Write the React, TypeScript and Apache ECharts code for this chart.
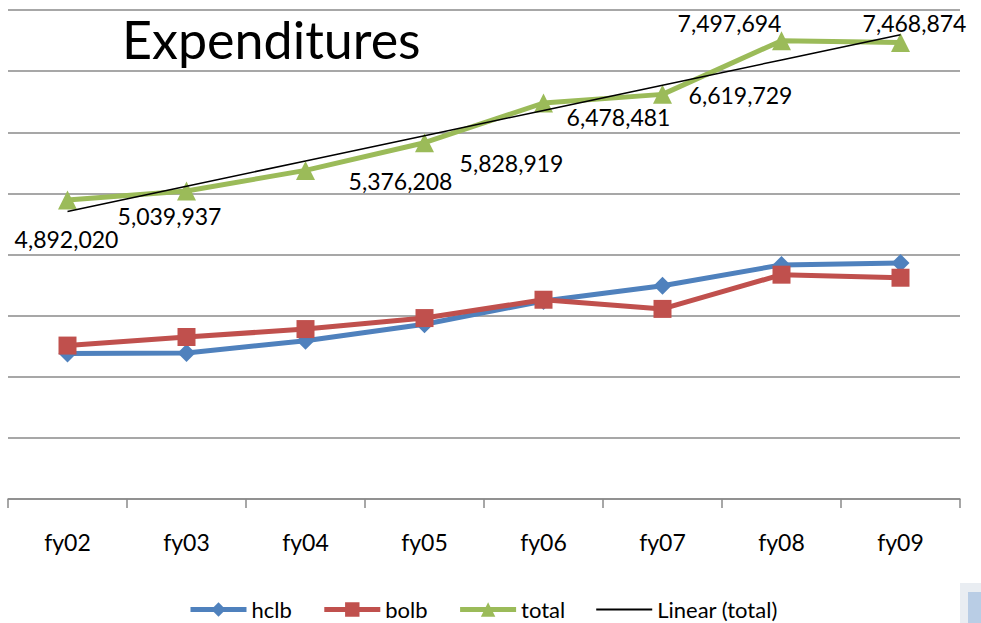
import React, { useEffect, useRef } from "react";
import * as echarts from "echarts";

const categories = ["fy02", "fy03", "fy04", "fy05", "fy06", "fy07", "fy08", "fy09"];
const hclb = [2380000, 2390000, 2590000, 2860000, 3240000, 3490000, 3830000, 3860000];
const bolb = [2510000, 2650000, 2780000, 2960000, 3260000, 3110000, 3670000, 3620000];
const total = [4892020, 5039937, 5376208, 5828919, 6478481, 6619729, 7497694, 7468874];

// label placement (layout only), offsets from each total point
const labelOffsets: [number, number][] = [
  [-1, 39], [-17, 25], [95, 11], [87, 20], [75, 14], [78, 1], [-52, -18], [14, -19],
];

function linearTrend(ys: number[]): number[] {
  const n = ys.length;
  const xs = ys.map((_, i) => i + 1);
  const mx = xs.reduce((a, b) => a + b, 0) / n;
  const my = ys.reduce((a, b) => a + b, 0) / n;
  let sxy = 0;
  let sxx = 0;
  for (let i = 0; i < n; i++) {
    sxy += (xs[i] - mx) * (ys[i] - my);
    sxx += (xs[i] - mx) * (xs[i] - mx);
  }
  const slope = sxy / sxx;
  const b = my - slope * mx;
  return xs.map((x) => b + slope * x);
}

const FONT = "Lato, 'Open Sans', sans-serif";
const fmt = (v: number) => v.toLocaleString("en-US");

export default function App() {
  const ref = useRef<HTMLDivElement>(null);
  useEffect(() => {
    if (!ref.current) return;
    const chart = echarts.init(ref.current, undefined, { renderer: "svg" });
    const trend = linearTrend(total);
    chart.setOption({
      animation: false,
      backgroundColor: "#ffffff",
      textStyle: { fontFamily: FONT },
      title: {
        text: "Expenditures",
        left: 117,
        top: 8,
        textStyle: { fontFamily: FONT, fontSize: 52, fontWeight: "normal", color: "#000" },
      },
      grid: { left: 8, right: 21, top: 10, bottom: 124, containLabel: false },
      legend: {
        left: 188,
        top: 597,
        padding: 0,
        itemWidth: 56,
        itemHeight: 18,
        itemGap: 30,
        lineStyle: { width: 5, cap: "butt" },
        textStyle: { fontFamily: FONT, fontSize: 22, lineHeight: 25, color: "#000" },
        data: [
          "hclb",
          "bolb",
          "total",
          { name: "Linear (total)", itemStyle: { opacity: 0 }, lineStyle: { width: 2, cap: "butt" } },
        ],
      },
      xAxis: {
        type: "category",
        data: categories,
        boundaryGap: true,
        axisLine: { lineStyle: { color: "#8a8a8a", width: 1.5 } },
        axisTick: { show: true, length: 9, lineStyle: { color: "#8a8a8a", width: 1.5 } },
        axisLabel: { fontFamily: FONT, fontSize: 23, color: "#000", margin: 31 },
        splitLine: { show: false },
      },
      yAxis: {
        type: "value",
        min: 0,
        max: 8000000,
        interval: 1000000,
        axisLabel: { show: false },
        axisLine: { show: false },
        axisTick: { show: false },
        splitLine: { lineStyle: { color: "#8a8a8a", width: 1.5 } },
      },
      series: [
        {
          name: "hclb",
          type: "line",
          data: hclb,
          symbol: "diamond",
          symbolSize: 18,
          itemStyle: { color: "#4F81BD" },
          lineStyle: { color: "#4F81BD", width: 5 },
          z: 2,
        },
        {
          name: "bolb",
          type: "line",
          data: bolb,
          symbol: "rect",
          symbolSize: 18,
          itemStyle: { color: "#C0504D" },
          lineStyle: { color: "#C0504D", width: 5 },
          z: 3,
        },
        {
          name: "total",
          type: "line",
          data: total.map((v, i) => ({
            value: v,
            label: { offset: labelOffsets[i] },
          })),
          symbol: "triangle",
          symbolSize: 19,
          itemStyle: { color: "#9BBB59" },
          lineStyle: { color: "#9BBB59", width: 5 },
          label: {
            show: true,
            position: "inside",
            fontFamily: FONT,
            fontSize: 23,
            color: "#000",
            formatter: (p: any) => fmt(p.value),
          },
          z: 4,
        },
        {
          name: "Linear (total)",
          type: "line",
          data: trend,
          symbol: "none",
          lineStyle: { color: "#000", width: 1.5 },
          itemStyle: { color: "#000" },
          z: 5,
        },
      ],
      graphic: [
        { type: "rect", shape: { x: 960, y: 583, width: 21, height: 40 }, style: { fill: "#e9edf2" } },
        { type: "rect", shape: { x: 968, y: 592, width: 13, height: 31 }, style: { fill: "#b9cde5" } },
      ],
    });
    return () => chart.dispose();
  }, []);
  return (
    <div
      ref={ref}
      style={{ position: "absolute", left: 0, top: 0, width: 981, height: 623 }}
    />
  );
}
